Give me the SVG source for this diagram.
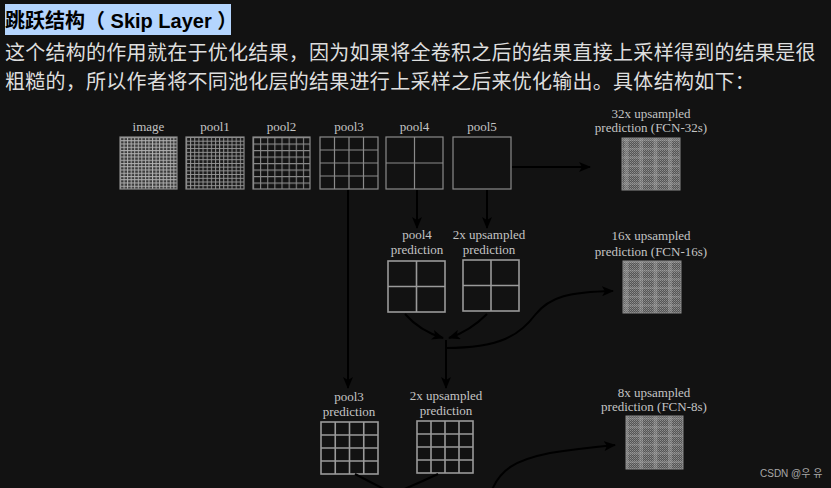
<svg xmlns="http://www.w3.org/2000/svg" width="831" height="488" viewBox="0 0 831 488">
<style>
.bg{fill:#121212}
.t{font-family:"Liberation Sans","Noto Sans CJK SC",sans-serif}
.p{font-family:"Liberation Sans","Noto Sans CJK SC",sans-serif;font-size:20px;fill:#dedede;letter-spacing:0.27px}
.lb{font-family:"Liberation Serif","DejaVu Serif",serif;font-size:13px;fill:#c4c4c4;text-anchor:middle}
.g{fill:none;stroke:#8a8a8a;stroke-width:1.2}
.gp{fill:none;stroke:#9a9a9a;stroke-width:1.6}
.c{fill:none;stroke:#000;stroke-width:2}
.ca{fill:none;stroke:#000;stroke-width:2;marker-end:url(#ah)}
</style>
<defs>
<marker id="ah" viewBox="0 0 12 10" refX="11" refY="5" markerWidth="12" markerHeight="10" markerUnits="userSpaceOnUse" orient="auto">
<path d="M0,0 L12,5 L0,10 L3,5 Z" fill="#000"/>
</marker>
<pattern id="pImg" x="120" y="137" width="3.56" height="3.25" patternUnits="userSpaceOnUse">
<rect width="3.56" height="3.25" fill="#3a3a3a"/>
<path d="M0,0.5H3.56M0.5,0V3.25" stroke="#b0b0b0" stroke-width="1"/>
</pattern>
<pattern id="pP1" x="186" y="137" width="4.14" height="3.71" patternUnits="userSpaceOnUse">
<rect width="4.14" height="3.71" fill="#1c1c1c"/>
<path d="M0,0.5H4.14M0.5,0V3.71" stroke="#959595" stroke-width="1"/>
</pattern>
<pattern id="pP2" x="253" y="137" width="7.125" height="6.5" patternUnits="userSpaceOnUse">
<rect width="7.125" height="6.5" fill="#141414"/>
<path d="M0,0.5H7.125M0.5,0V6.5" stroke="#8a8a8a" stroke-width="1.1"/>
</pattern>
<pattern id="pUp" width="2" height="2" patternUnits="userSpaceOnUse">
<rect width="2" height="2" fill="#555"/>
<rect width="1" height="1" fill="#8e8e8e"/>
<rect x="1" y="1" width="1" height="1" fill="#7a7a7a"/>
</pattern>
<pattern id="pUpL" width="14.5" height="8.7" patternUnits="userSpaceOnUse">
<path d="M0,1H14.5M2,0V8.7M4,0V8.7" stroke="#b8b8b8" stroke-width="1" opacity="0.6"/>
</pattern>
</defs>
<rect class="bg" width="831" height="488"/>

<g id="title">
<rect x="5" y="4" width="226" height="31" fill="#b4d5fe"/>
<text class="t" x="5" y="28" font-size="20" font-weight="bold" fill="#000">跳跃结构（ Skip Layer ）</text>
</g>
<g id="paragraph">
<text class="p" x="5" y="60">这个结构的作用就在于优化结果，因为如果将全卷积之后的结果直接上采样得到的结果是很</text>
<text class="p" x="5" y="89">粗糙的，所以作者将不同池化层的结果进行上采样之后来优化输出。具体结构如下：</text>
</g>

<g id="image">
<text class="lb" x="148.5" y="131">image</text>
<rect x="120" y="137" width="57" height="52" fill="url(#pImg)"/>
<rect class="g" x="120" y="137" width="57" height="52"/>
</g>
<g id="pool1">
<text class="lb" x="215" y="131">pool1</text>
<rect x="186" y="137" width="58" height="52" fill="url(#pP1)"/>
<rect class="g" x="186" y="137" width="58" height="52"/>
</g>
<g id="pool2">
<text class="lb" x="281.5" y="131">pool2</text>
<rect x="253" y="137" width="57" height="52" fill="url(#pP2)"/>
<rect class="g" x="253" y="137" width="57" height="52"/>
</g>
<g id="pool3">
<text class="lb" x="349" y="131">pool3</text>
<rect class="g" x="320" y="137" width="58" height="52"/>
<path class="g" d="M334.5,137V189M349,137V189M363.5,137V189M320,150H378M320,163H378M320,176H378"/>
</g>
<g id="pool4">
<text class="lb" x="414.5" y="131">pool4</text>
<rect class="g" x="386" y="137" width="57" height="52"/>
<path class="g" d="M414.5,137V189M386,163H443"/>
</g>
<g id="pool5">
<text class="lb" x="482" y="131">pool5</text>
<rect class="g" x="453" y="137" width="58" height="52"/>
</g>

<g id="up32">
<text class="lb" x="651" y="118">32x upsampled</text>
<text class="lb" x="651" y="132">prediction (FCN-32s)</text>
<rect x="622" y="138" width="58" height="52" fill="url(#pUp)"/>
<rect x="622" y="138" width="58" height="52" fill="url(#pUpL)"/>
<rect x="622" y="138" width="58" height="52" fill="none" stroke="#8a8a8a" stroke-width="1"/>
</g>

<g id="pool4pred">
<text class="lb" x="417" y="239">pool4</text>
<text class="lb" x="417" y="254">prediction</text>
<rect class="gp" x="388" y="261" width="57" height="51"/>
<path class="gp" d="M416.5,261V312M388,286.5H445"/>
</g>
<g id="up2a">
<text class="lb" x="489" y="239">2x upsampled</text>
<text class="lb" x="489" y="254">prediction</text>
<rect class="gp" x="463" y="260" width="56" height="51"/>
<path class="gp" d="M491,260V311M463,285.5H519"/>
</g>

<g id="up16">
<text class="lb" x="651" y="240">16x upsampled</text>
<text class="lb" x="651" y="256">prediction (FCN-16s)</text>
<rect x="623" y="261" width="58" height="52" fill="url(#pUp)"/>
<rect x="623" y="261" width="58" height="52" fill="url(#pUpL)"/>
<rect x="623" y="261" width="58" height="52" fill="none" stroke="#8a8a8a" stroke-width="1"/>
</g>

<g id="pool3pred">
<text class="lb" x="349" y="401">pool3</text>
<text class="lb" x="349" y="416">prediction</text>
<rect class="gp" x="321" y="422" width="57" height="52"/>
<path class="gp" d="M335.25,422V474M349.5,422V474M363.75,422V474M321,435H378M321,448H378M321,461H378"/>
</g>
<g id="up2b">
<text class="lb" x="446" y="400">2x upsampled</text>
<text class="lb" x="446" y="415">prediction</text>
<rect class="gp" x="417" y="421" width="56" height="52"/>
<path class="gp" d="M431,421V473M445,421V473M459,421V473M417,434H473M417,447H473M417,460H473"/>
</g>

<g id="up8">
<text class="lb" x="654" y="397">8x upsampled</text>
<text class="lb" x="654" y="411">prediction (FCN-8s)</text>
<rect x="626" y="416" width="57" height="53" fill="url(#pUp)"/>
<rect x="626" y="416" width="57" height="53" fill="url(#pUpL)"/>
<rect x="626" y="416" width="57" height="53" fill="none" stroke="#8a8a8a" stroke-width="1"/>
</g>

<g id="connectors">
<path class="ca" d="M512,167H590"/>
<path class="ca" d="M348,190V388"/>
<path class="ca" d="M417,190V228"/>
<path class="ca" d="M487,190V228"/>
<path class="ca" d="M405,314Q420,331 443,338"/>
<path class="ca" d="M487,314Q470,331 449,338"/>
<path class="ca" d="M446,340V388"/>
<path class="ca" d="M446,348C500,348 520,335 535,315C550,296 570,292 613,291"/>
<path class="c" d="M355,474Q370,482 386,490"/>
<path class="c" d="M438,474Q421,482 402,490"/>
<path class="ca" d="M492,490C500,470 515,460 550,453C575,449 595,447 615,445"/>
</g>

<text x="760" y="477" font-family="'Liberation Sans','Noto Sans CJK KR',sans-serif" font-size="10" fill="#a8a8a8">CSDN @우 유</text>
</svg>
